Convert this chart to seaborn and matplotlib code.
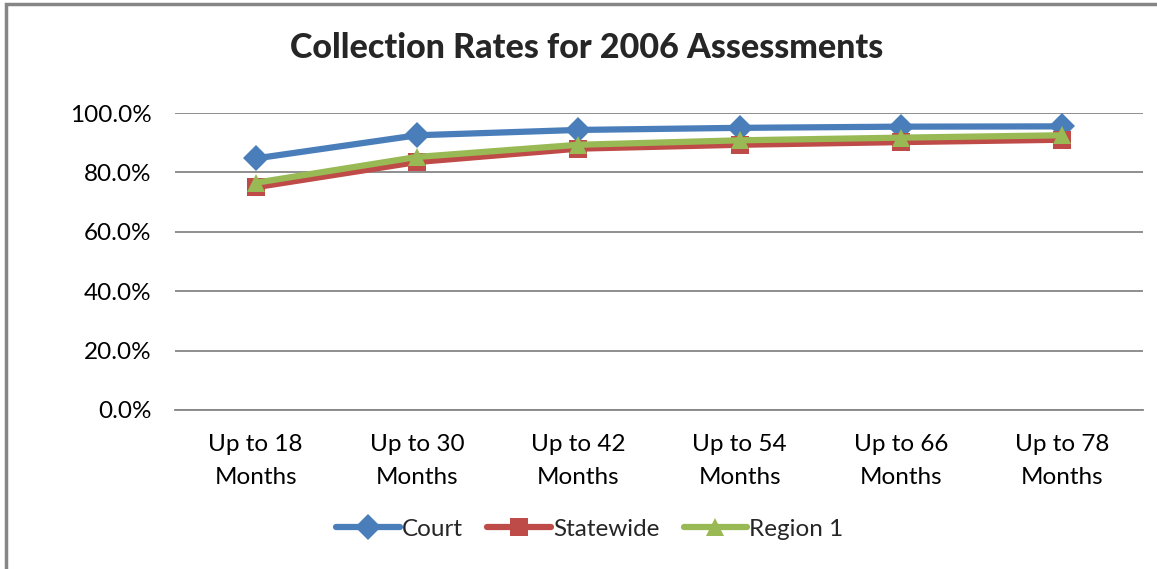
import numpy as np
import pandas as pd
import matplotlib
matplotlib.use("Agg")
import matplotlib.pyplot as plt
import seaborn as sns
from matplotlib.ticker import PercentFormatter
from matplotlib.patches import Rectangle

categories = ["Up to 18\nMonths", "Up to 30\nMonths", "Up to 42\nMonths",
              "Up to 54\nMonths", "Up to 66\nMonths", "Up to 78\nMonths"]
court = [84.7, 92.5, 94.3, 95.0, 95.4, 95.5]
statewide = [75.0, 83.5, 88.0, 89.3, 90.2, 91.0]
region1 = [76.5, 85.2, 89.3, 90.8, 91.7, 92.5]
series_names = ["Court", "Statewide", "Region 1"]

colors = {"Court": "#4A7EBB", "Statewide": "#BE4B48", "Region 1": "#98B954"}
markers = {"Court": "D", "Statewide": "s", "Region 1": "^"}

df = pd.DataFrame({
    "x": list(range(len(categories))) * 3,
    "value": court + statewide + region1,
    "series": [n for n in series_names for _ in categories],
})

sns.set_style("white")
plt.rcParams["font.family"] = ["Lato", "DejaVu Sans"]

fig = plt.figure(figsize=(11.57, 5.69), dpi=100)
ax = fig.add_axes([175 / 1157, 1 - 410 / 569, (1143 - 175) / 1157, (410 - 113) / 569])

sns.lineplot(data=df, x="x", y="value", hue="series", style="series",
             palette=colors, markers=markers, dashes=False, linewidth=4.5,
             markersize=13, markeredgewidth=0, ax=ax, legend=False, sort=False)

ax.set_xlim(-0.5, len(categories) - 0.5)
ax.set_ylim(0, 100)
ax.set_yticks(np.arange(0, 101, 20))
ax.yaxis.set_major_formatter(PercentFormatter(decimals=1))
ax.set_xticks(range(len(categories)))
ax.set_xticklabels(categories, linespacing=1.7)
ax.tick_params(axis="x", labelsize=17.5, length=0, colors="black", pad=17)
ax.tick_params(axis="y", labelsize=17.5, length=0, colors="black", pad=17)
ax.grid(axis="y", color="#868686", linewidth=1.3)
for s in ["top", "right", "left"]:
    ax.spines[s].set_visible(False)
ax.spines["bottom"].set_color("#868686")
ax.spines["bottom"].set_linewidth(1.3)
ax.set_xlabel("")
ax.set_ylabel("")

fig.text(587 / 1157, 1 - 48 / 569, "Collection Rates for 2006 Assessments",
         ha="center", va="center", fontsize=24.5, fontweight="black")

handles = [plt.Line2D([], [], color=colors[n], marker=markers[n], linewidth=4.5,
                      markersize=13, markeredgewidth=0) for n in series_names]
fig.legend(handles, series_names, loc="center", bbox_to_anchor=(590 / 1157, 1 - 529 / 569),
           ncol=3, frameon=False, fontsize=17.5, handlelength=2.6, handletextpad=0.1,
           columnspacing=1.0, numpoints=1)

fig.add_artist(Rectangle((6 / 1157, -0.1), 1.2, 1 - 4 / 569 + 0.1, transform=fig.transFigure,
                         fill=False, edgecolor="#868686", linewidth=2.5))

fig.savefig("out.png", dpi=100)
